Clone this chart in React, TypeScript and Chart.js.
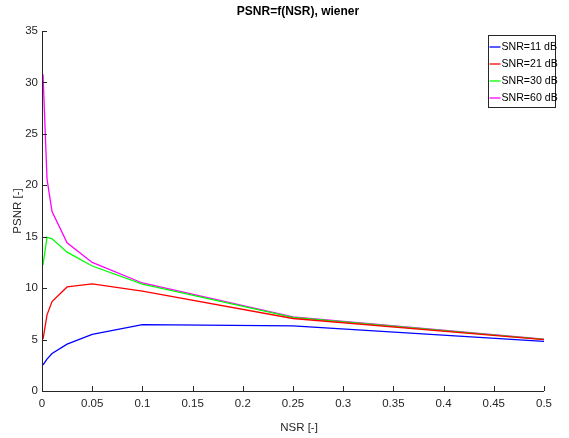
import React, { useEffect, useRef } from "react";
import { Chart, registerables } from "chart.js";

Chart.register(...registerables);

const nsrValues = [0.001, 0.005, 0.01, 0.025, 0.05, 0.1, 0.25, 0.5];
const snr11 = [2.53, 3.1, 3.65, 4.56, 5.5, 6.45, 6.33, 4.82];
const snr21 = [5.05, 7.4, 8.7, 10.12, 10.42, 9.72, 7.05, 5.0];
const snr30 = [12.25, 14.95, 14.8, 13.5, 12.15, 10.38, 7.15, 5.02];
const snr60 = [30.8, 20.6, 17.45, 14.4, 12.5, 10.5, 7.2, 5.05];
const seriesLabels = ["SNR=11 dB", "SNR=21 dB", "SNR=30 dB", "SNR=60 dB"];
const seriesColors = ["#0000ff", "#ff0000", "#00ff00", "#ff00ff"];
const titleText = "PSNR=f(NSR), wiener";
const xLabel = "NSR [-]";
const yLabel = "PSNR [-]";

const FONT = "'Liberation Sans', Arial, sans-serif";
const AXIS = "#262626";

const decorPlugin = {
  id: "decor",
  afterDraw(chart: any) {
    const ctx = chart.ctx;
    const ca = chart.chartArea;
    const xs = chart.scales.x;
    const ys = chart.scales.y;
    ctx.save();
    // axis lines
    ctx.strokeStyle = AXIS;
    ctx.lineWidth = 1;
    ctx.beginPath();
    ctx.moveTo(Math.round(ca.left) + 0.5, ca.top);
    ctx.lineTo(Math.round(ca.left) + 0.5, Math.round(ca.bottom) + 0.5);
    ctx.lineTo(ca.right, Math.round(ca.bottom) + 0.5);
    ctx.stroke();
    // inward ticks
    ctx.beginPath();
    xs.ticks.forEach((t: any) => {
      const px = Math.round(xs.getPixelForValue(t.value)) + 0.5;
      ctx.moveTo(px, ca.bottom);
      ctx.lineTo(px, ca.bottom - 5);
    });
    ys.ticks.forEach((t: any) => {
      const py = Math.round(ys.getPixelForValue(t.value)) + 0.5;
      ctx.moveTo(ca.left, py);
      ctx.lineTo(ca.left + 5, py);
    });
    ctx.stroke();
    // title
    ctx.fillStyle = "#000";
    ctx.textAlign = "center";
    ctx.textBaseline = "middle";
    ctx.font = `bold 12px ${FONT}`;
    ctx.fillText(titleText, (ca.left + ca.right) / 2 + 5, 12);
    // axis labels
    ctx.fillStyle = AXIS;
    ctx.font = `11.5px ${FONT}`;
    ctx.fillText(xLabel, (ca.left + ca.right) / 2 + 6, 428);
    ctx.save();
    ctx.translate(18, (ca.top + ca.bottom) / 2);
    ctx.rotate(-Math.PI / 2);
    ctx.fillText(yLabel, 0, 0);
    ctx.restore();
    // legend
    const bx = 488.5, by = 35.5, bw = 67, bh = 72;
    ctx.fillStyle = "#fff";
    ctx.fillRect(bx, by, bw, bh);
    ctx.strokeStyle = AXIS;
    ctx.lineWidth = 1;
    ctx.strokeRect(bx, by, bw, bh);
    ctx.font = `10.6px ${FONT}`;
    ctx.textAlign = "left";
    chart.data.datasets.forEach((ds: any, i: number) => {
      const yy = 47 + i * 17;
      ctx.strokeStyle = ds.borderColor;
      ctx.lineWidth = 1.3;
      ctx.beginPath();
      ctx.moveTo(bx + 1, yy);
      ctx.lineTo(bx + 12, yy);
      ctx.stroke();
      ctx.fillStyle = "#000";
      ctx.fillText(ds.label, bx + 13, yy);
    });
    ctx.restore();
  },
};

export default function App() {
  const ref = useRef<HTMLCanvasElement>(null);
  useEffect(() => {
    document.body.style.margin = "0";
    const all = [snr11, snr21, snr30, snr60];
    const chart = new Chart(ref.current!, {
      type: "line",
      data: {
        datasets: all.map((vals, i) => ({
          label: seriesLabels[i],
          data: nsrValues.map((x, j) => ({ x, y: vals[j] })),
          borderColor: seriesColors[i],
          backgroundColor: seriesColors[i],
          borderWidth: 1.3,
          pointRadius: 0,
          tension: 0,
          fill: false,
        })),
      },
      options: {
        animation: false,
        responsive: false,
        layout: { padding: { top: 31, right: 25, left: 0, bottom: 0 } },
        plugins: {
          legend: { display: false },
          title: { display: false },
          tooltip: { enabled: false },
        },
        scales: {
          x: {
            type: "linear",
            min: 0,
            max: 0.5,
            grid: { display: false, drawTicks: false },
            border: { display: false },
            ticks: {
              stepSize: 0.05,
              padding: 6,
              color: AXIS,
              font: { family: FONT, size: 11.5 },
              maxRotation: 0,
              callback: (v: any) => String(Math.round(Number(v) * 100) / 100),
            },
            afterFit: (s: any) => {
              s.height = 47;
            },
          },
          y: {
            type: "linear",
            min: 0,
            max: 35,
            grid: { display: false, drawTicks: false },
            border: { display: false },
            ticks: {
              stepSize: 5,
              padding: 4,
              color: AXIS,
              font: { family: FONT, size: 11.5 },
            },
            afterFit: (s: any) => {
              s.width = 42;
            },
          },
        },
      },
      plugins: [decorPlugin],
    });
    return () => chart.destroy();
  }, []);
  return (
    <div style={{ width: 569, height: 438, background: "#fff" }}>
      <canvas ref={ref} width={569} height={438} style={{ display: "block" }} />
    </div>
  );
}
